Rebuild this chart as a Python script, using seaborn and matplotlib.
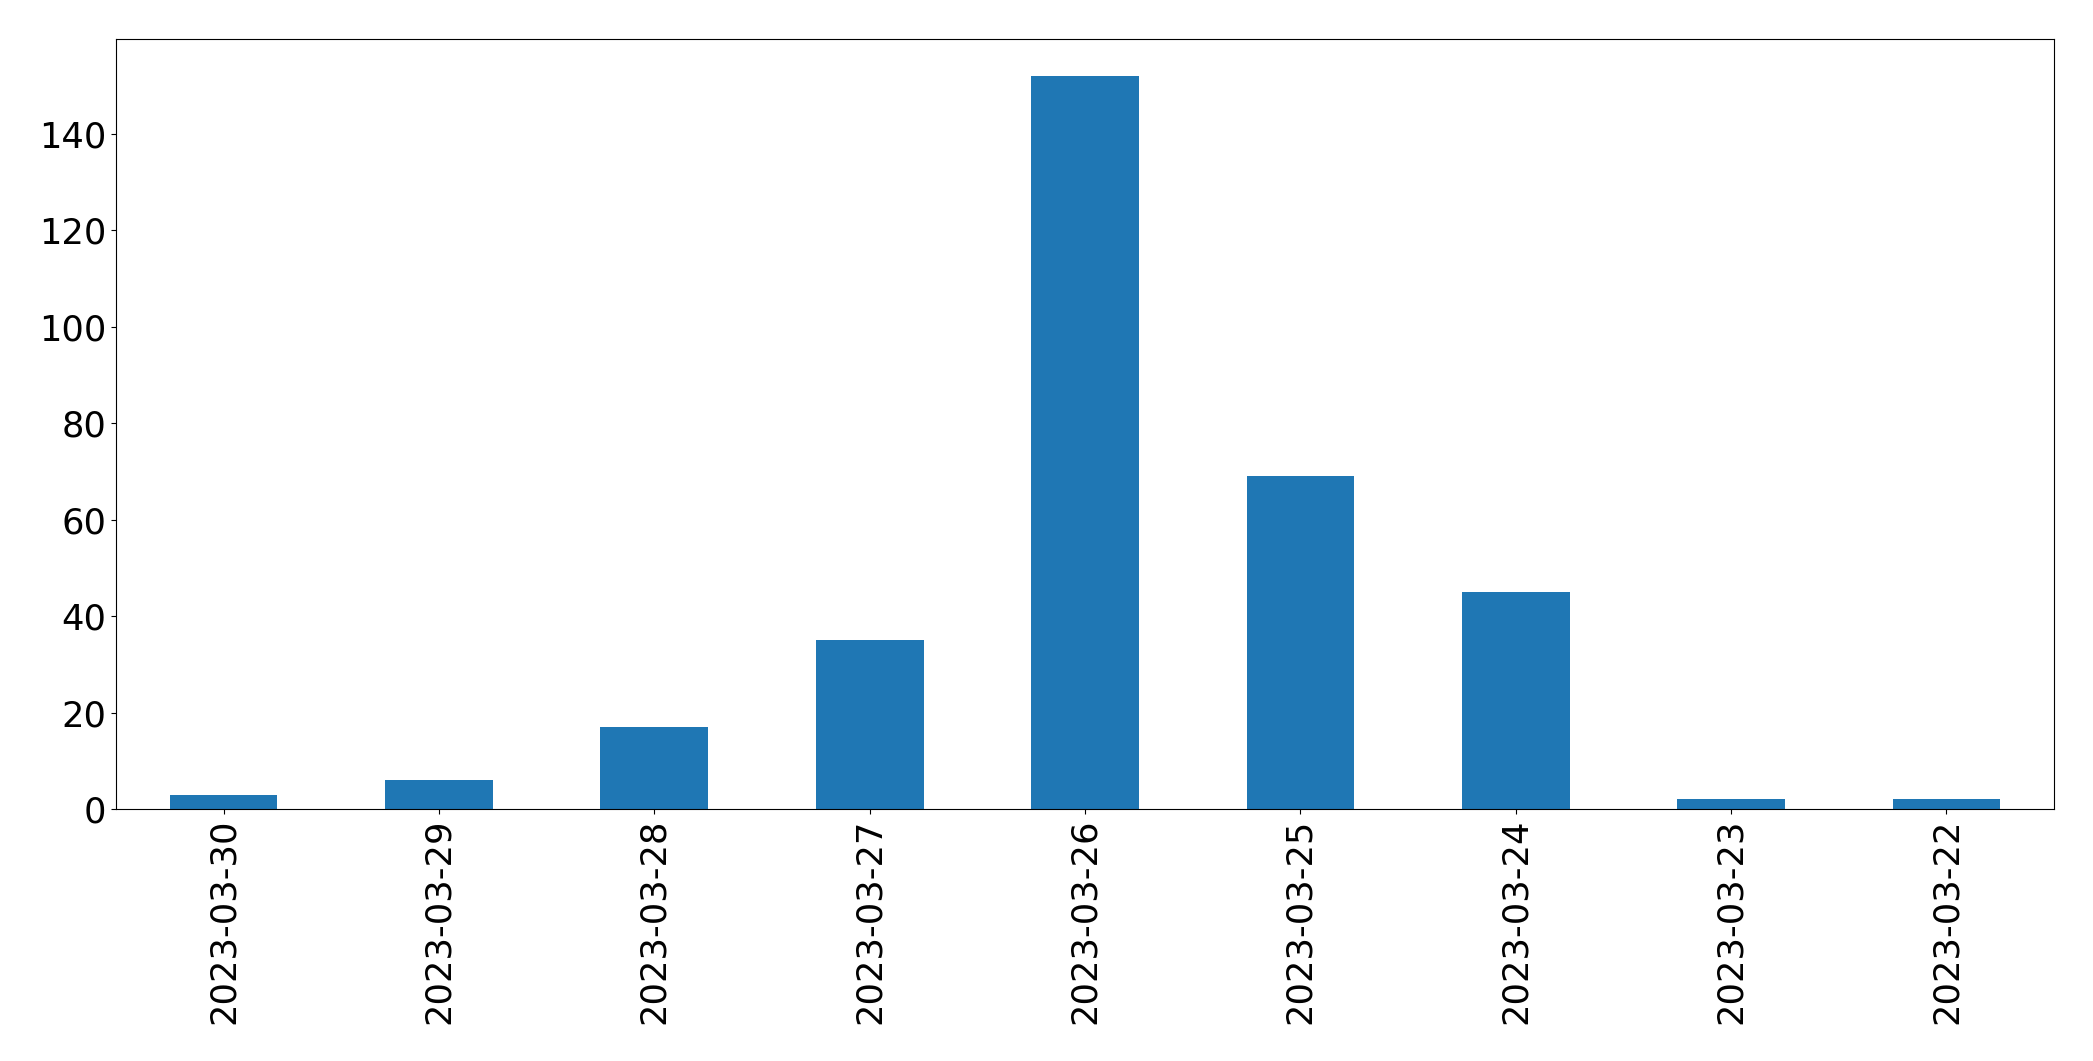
import matplotlib
matplotlib.use("Agg")
import matplotlib.pyplot as plt
import seaborn as sns

# =========================================================
# DATA
# =========================================================

dates = [
    "2023-03-30", "2023-03-29", "2023-03-28", "2023-03-27", "2023-03-26",
    "2023-03-25", "2023-03-24", "2023-03-23", "2023-03-22",
]

counts = [3, 6, 17, 35, 152, 69, 45, 2, 2]

# =========================================================
# PLOT
# =========================================================

fig = plt.figure(figsize=(20.93, 10.61), dpi=100)
ax = fig.add_axes([0.0554, 0.2375, 0.9260, 0.7257])

sns.barplot(
    x=dates,
    y=counts,
    order=dates,
    color="#1f77b4",
    saturation=1,
    width=0.5,
    ax=ax
)

ax.set_xlim(-0.5, len(dates) - 0.5)
ax.tick_params(axis="both", labelsize=25.4)
ax.tick_params(axis="x", labelrotation=90)

plt.savefig("out.png", dpi=100)
plt.close()
